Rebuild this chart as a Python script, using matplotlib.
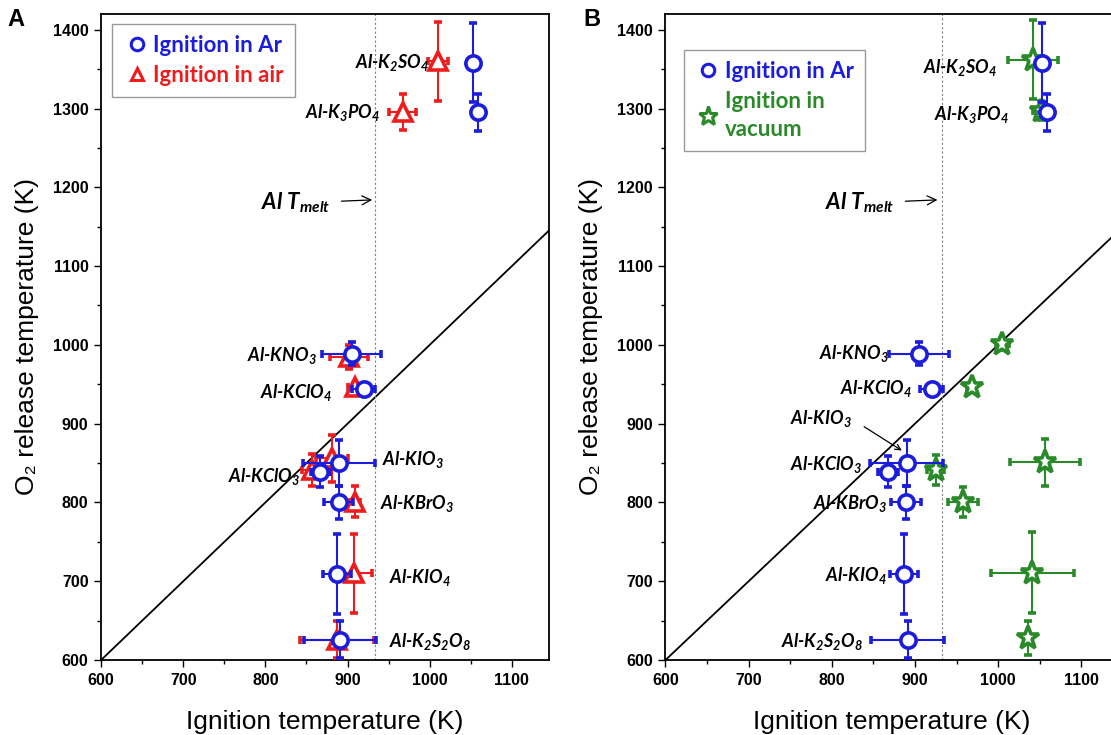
import matplotlib
matplotlib.use('Agg')
from matplotlib import pyplot as plt
from matplotlib.lines import Line2D
from matplotlib.ticker import MultipleLocator

plt.rcParams['font.family'] = ['Liberation Sans Narrow', 'Liberation Sans', 'DejaVu Sans']
plt.rcParams['mathtext.fontset'] = 'custom'
plt.rcParams['mathtext.rm'] = 'Lato:italic:bold'
plt.rcParams['mathtext.it'] = 'Lato:italic:bold'
plt.rcParams['mathtext.bf'] = 'Lato:italic:bold'

# compounds (order used in every array below)
names = ['Al-K$_2$SO$_4$', 'Al-K$_3$PO$_4$', 'Al-KNO$_3$', 'Al-KClO$_4$', 'Al-KIO$_3$',
         'Al-KClO$_3$', 'Al-KBrO$_3$', 'Al-KIO$_4$', 'Al-K$_2$S$_2$O$_8$']

# ignition in Ar
ar_x = [1053, 1059, 905, 920, 890, 867, 889, 887, 891]
ar_y = [1358, 1295, 989, 944, 850, 839, 800, 709, 626]
ar_xerr = [0, 5, 36, 14, 44, 12, 18, 17, 44]
ar_yerr = [50, 23, 15, 5, 29, 20, 21, 51, 23]

# ignition in air
air_x = [1010, 967, 902, 909, 881, 857, 909, 908, 887]
air_y = [1360, 1296, 985, 946, 856, 841, 801, 710, 626]
air_xerr = [12, 16, 23, 8, 20, 12, 6, 22, 45]
air_yerr = [50, 23, 15, 6, 30, 20, 20, 50, 23]

# ignition in vacuum
vac_x = [1042, 1052, 1005, 968, 1056, 925, 958, 1041, 1036]
vac_y = [1362, 1297, 1001, 946, 851, 841, 801, 711, 628]
vac_xerr = [30, 10, 8, 5, 42, 10, 18, 50, 5]
vac_yerr = [50, 12, 8, 5, 30, 19, 19, 51, 22]

al_melt = 933

# label anchors (x, y, ha) per panel
lab_a = [(999, 1359, 'right'), (940, 1295, 'right'), (863, 987, 'right'), (881, 940, 'right'),
         (942, 854, 'left'), (843, 833, 'right'), (939, 799, 'left'), (951, 705, 'left'),
         (951, 623, 'left')]
lab_b = [(999, 1352, 'right'), (1013, 1292, 'right'), (869, 989, 'right'), (897, 944, 'right'),
         (824, 906, 'right'), (837, 848, 'right'), (867, 799, 'right'), (866, 707, 'right'),
         (838, 623, 'right')]

BLUE = '#1c1cdc'
RED = '#ee1c1c'
GREEN = '#2a8a2a'

fig = plt.figure(figsize=(11.11, 7.35), dpi=100)
axA = fig.add_axes([0.091, 0.102, 0.403, 0.879])
axB = fig.add_axes([0.599, 0.102, 0.408, 0.879])


def style_axis(ax):
    ax.set_xlim(600, 1145)
    ax.set_ylim(600, 1420)
    ax.plot([600, 1150], [600, 1150], color='k', lw=1.3, zorder=1)
    ax.axvline(al_melt, color='gray', lw=0.8, ls=(0, (2, 2)), zorder=1)
    ax.xaxis.set_major_locator(MultipleLocator(100))
    ax.xaxis.set_minor_locator(MultipleLocator(50))
    ax.yaxis.set_major_locator(MultipleLocator(100))
    ax.yaxis.set_minor_locator(MultipleLocator(50))
    ax.tick_params(which='major', direction='out', length=5, width=1, labelsize=11.5, pad=4)
    ax.tick_params(which='minor', direction='out', length=3, width=1)
    for lab in ax.get_xticklabels() + ax.get_yticklabels():
        lab.set_fontweight('bold')
    for sp in ax.spines.values():
        sp.set_linewidth(1.3)
    ax.set_xlabel('Ignition temperature (K)', fontsize=19, labelpad=16)
    ax.set_ylabel('O\u2082 release temperature (K)', fontsize=19, labelpad=10)


def draw(ax, xs, ys, xe, ye, color, marker, ms, z):
    ax.errorbar(xs, ys, xerr=xe, yerr=ye, fmt=marker, ms=ms, mfc='white', mec=color,
                mew=2.6, ecolor=color, elinewidth=1.5, capsize=3, capthick=1.5, zorder=z)


def labels(ax, pos):
    for name, (x, y, ha) in zip(names, pos):
        ax.text(x, y, name, ha=ha, va='center', fontsize=13, fontstyle='italic',
                fontweight='bold', family='Lato')


# panel A
style_axis(axA)
draw(axA, air_x, air_y, air_xerr, air_yerr, RED, '^', 13, 3)
draw(axA, ar_x, ar_y, ar_xerr, ar_yerr, BLUE, 'o', 11, 4)
labels(axA, lab_a)
axA.annotate('Al T$_{melt}$', xy=(930, 1184), xytext=(879, 1180), ha='right', va='center',
             fontsize=16, fontstyle='italic', fontweight='bold', family='Lato',
             arrowprops=dict(arrowstyle='->', lw=0.9, color='k', shrinkA=6, shrinkB=0))
legA = axA.legend(handles=[
    Line2D([], [], ls='none', marker='o', ms=9, mfc='white', mec=BLUE, mew=2.2),
    Line2D([], [], ls='none', marker='^', ms=9, mfc='white', mec=RED, mew=2.2)],
    labels=['Ignition in Ar', 'Ignition in air'], loc='upper left',
    bbox_to_anchor=(0.025, 0.985), borderaxespad=0, fancybox=False, edgecolor='gray',
    handletextpad=0.15, handlelength=1.2, labelspacing=0.4, borderpad=0.5,
    prop=dict(family='Lato', weight='bold', size=16))
for t, c in zip(legA.get_texts(), [BLUE, RED]):
    t.set_color(c)

# panel B
style_axis(axB)
draw(axB, vac_x, vac_y, vac_xerr, vac_yerr, GREEN, '*', 17, 3)
draw(axB, ar_x, ar_y, ar_xerr, ar_yerr, BLUE, 'o', 11, 4)
labels(axB, lab_b)
axB.annotate('', xy=(887, 864), xytext=(836, 898),
             arrowprops=dict(arrowstyle='->', lw=0.9, color='k'))
axB.annotate('Al T$_{melt}$', xy=(927, 1184), xytext=(875, 1180), ha='right', va='center',
             fontsize=16, fontstyle='italic', fontweight='bold', family='Lato',
             arrowprops=dict(arrowstyle='->', lw=0.9, color='k', shrinkA=6, shrinkB=0))
legB = axB.legend(handles=[
    Line2D([], [], ls='none', marker='o', ms=9, mfc='white', mec=BLUE, mew=2.2),
    Line2D([], [], ls='none', marker='*', ms=14, mfc='white', mec=GREEN, mew=2.2)],
    labels=['Ignition in Ar', 'Ignition in\nvacuum'], loc='upper left',
    bbox_to_anchor=(0.04, 0.944), borderaxespad=0, fancybox=False, edgecolor='gray',
    handletextpad=0.15, handlelength=1.2, labelspacing=0.4, borderpad=0.5,
    prop=dict(family='Lato', weight='bold', size=16))
for t, c in zip(legB.get_texts(), [BLUE, GREEN]):
    t.set_color(c)
    t.set_linespacing(1.4)

fig.text(0.007, 0.965, 'A', fontsize=17, fontweight='bold', family='Liberation Sans')
fig.text(0.525, 0.965, 'B', fontsize=17, fontweight='bold', family='Liberation Sans')

fig.savefig('out.png', dpi=100)
